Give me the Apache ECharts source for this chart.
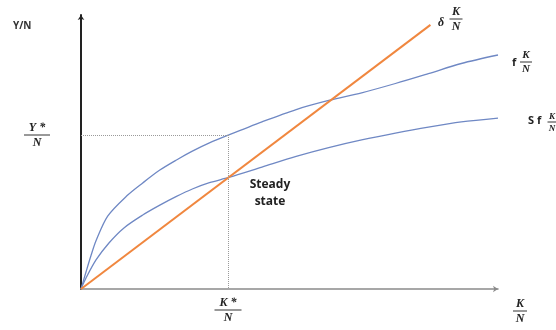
<!DOCTYPE html>
<html>
<head>
<meta charset="utf-8">
<script src="https://cdn.jsdelivr.net/npm/echarts@6/dist/echarts.min.js"></script>
<style>html,body{margin:0;padding:0;background:#fff}#c{width:556px;height:330px}</style>
</head>
<body>
<div id="c"></div>
<script>
// Capital per worker (x) and output per worker (y), arbitrary units 0..100
const kValues = [0, 1.2, 2.4, 3.6, 6.4, 11.0, 14.8, 18.9, 22.9, 26.7, 30.8, 35.4, 43.4, 51.6, 59.4, 67.3, 75.4, 83.3, 91.2, 100];
const outputValues = [0, 6.2, 12.2, 17.6, 26.6, 34.0, 38.7, 43.4, 47.1, 50.3, 53.3, 56.2, 61.0, 65.5, 68.8, 71.6, 75.0, 78.6, 82.3, 85.4];
const kSaving = [0, 1.2, 3.6, 6.7, 10.3, 14.8, 18.9, 22.9, 26.7, 30.8, 35.4, 43.4, 51.6, 59.4, 67.3, 75.4, 83.3, 91.2, 100];
const savingValues = [0, 4.0, 10.6, 16.8, 22.3, 27.0, 30.6, 33.8, 36.5, 38.8, 40.7, 44.5, 48.4, 51.6, 54.4, 56.9, 59.1, 61.0, 62.4];
const depKValues = [0, 83.8];
const depValues = [0, 96.4];
const kStar = 35.4;
const yStar = 56.2;

const chart = echarts.init(document.getElementById('c'));
const zip = (a, b) => a.map((v, i) => [v, b[i]]);

function frac(cx, barY, num, den, w, size) {
  size = size || 12;
  const font = 'italic bold ' + size + 'px "Liberation Serif", "DejaVu Serif", serif';
  return [
    {type: 'text', x: cx, y: barY - 1, style: {text: num, font: font, fill: '#222', align: 'center', verticalAlign: 'bottom'}},
    {type: 'line', shape: {x1: cx - w / 2, y1: barY, x2: cx + w / 2, y2: barY}, style: {stroke: '#333', lineWidth: 1}},
    {type: 'text', x: cx, y: barY + 2, style: {text: den, font: font, fill: '#222', align: 'center', verticalAlign: 'top'}}
  ];
}

const graphics = [].concat(
  [{type: 'text', x: 13, y: 21, style: {text: 'Y/N', font: 'bold 10px "Open Sans", sans-serif', fill: '#333'}}],
  frac(37, 135, 'Y *', 'N', 26),
  frac(228, 310, 'K *', 'N', 27),
  frac(520, 311, 'K', 'N', 14),
  [{type: 'text', x: 438, y: 17, style: {text: 'δ', font: 'italic bold 12px "Liberation Serif", serif', fill: '#222'}}],
  frac(456, 19, 'K', 'N', 13),
  [{type: 'text', x: 512, y: 57, style: {text: 'f', font: 'bold 11px "Open Sans", sans-serif', fill: '#222'}}],
  frac(526, 62, 'K', 'N', 12, 11),
  [{type: 'text', x: 528, y: 115, style: {text: 'S f', font: 'bold 11px "Open Sans", sans-serif', fill: '#222'}}],
  frac(552, 122, 'K', 'N', 9, 9),
  [{type: 'text', x: 270, y: 176, style: {text: 'Steady\nstate', font: 'bold 12px "Open Sans", sans-serif', fill: '#222', align: 'center', lineHeight: 17}}]
);

chart.setOption({
  animation: false,
  grid: {left: 81, right: 58, top: 15, bottom: 41},
  xAxis: {
    type: 'value', min: 0, max: 100,
    axisLine: {show: true, symbol: ['none', 'arrow'], symbolSize: [5, 5], lineStyle: {color: '#8a8a8a', width: 1.5}},
    axisTick: {show: false}, axisLabel: {show: false}, splitLine: {show: false}
  },
  yAxis: {
    type: 'value', min: 0, max: 100,
    axisLine: {show: true, symbol: ['none', 'arrow'], symbolSize: [5, 5], lineStyle: {color: '#222', width: 2}},
    axisTick: {show: false}, axisLabel: {show: false}, splitLine: {show: false}
  },
  series: [
    {
      type: 'line', data: zip(kValues, outputValues), smooth: 0.3, showSymbol: false,
      lineStyle: {color: '#6f88c4', width: 1.3},
      markLine: {
        silent: true, symbol: 'none', label: {show: false},
        lineStyle: {color: '#9a9a9a', type: 'dotted', width: 1},
        data: [
          [{coord: [0, yStar]}, {coord: [kStar, yStar]}],
          [{coord: [kStar, yStar]}, {coord: [kStar, 0]}]
        ]
      }
    },
    {
      type: 'line', data: zip(kSaving, savingValues), smooth: 0.3, showSymbol: false,
      lineStyle: {color: '#6f88c4', width: 1.3}
    },
    {
      type: 'line', data: zip(depKValues, depValues), showSymbol: false,
      lineStyle: {color: '#f0873f', width: 2}
    }
  ],
  graphic: graphics
});
</script>
</body>
</html>
